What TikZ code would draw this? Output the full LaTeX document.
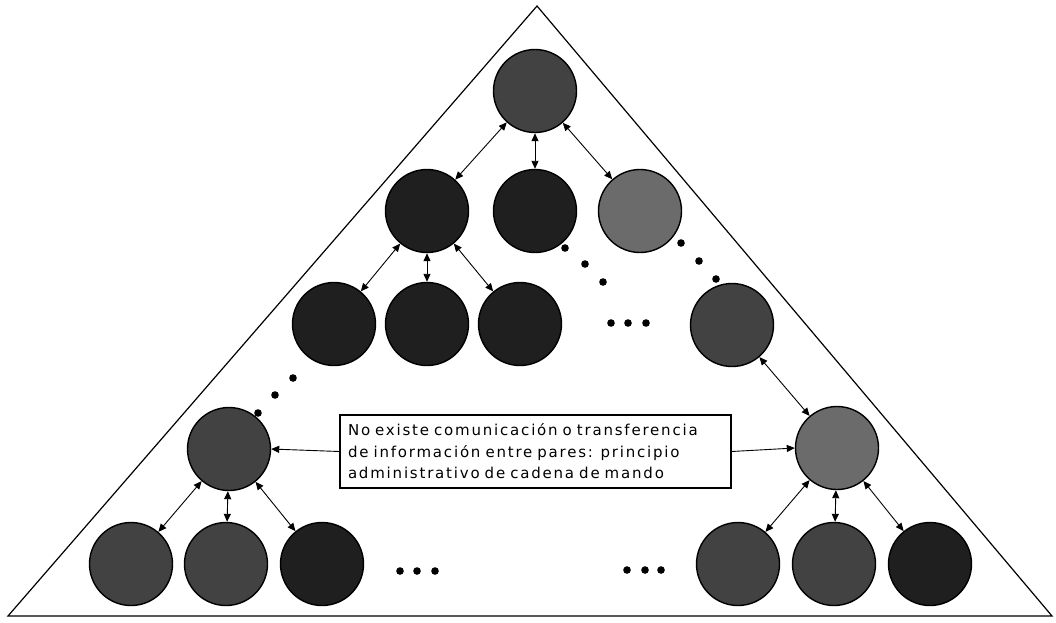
\documentclass[tikz,border=0pt]{standalone}
\usepackage{fontspec}
\setmainfont{DejaVu Sans}
\newfontfamily\notefont[LetterSpace=12]{DejaVu Sans}
\usetikzlibrary{arrows.meta}
\begin{document}
\begin{tikzpicture}[x=1pt,y=-1pt,
  unit/.style={circle,draw=black,line width=1.4pt,minimum size=83pt,inner sep=0pt},
  dark/.style={unit,fill=black!88},
  mid/.style={unit,fill=black!74},
  light/.style={unit,fill=black!58},
  link/.style={{Triangle[length=8pt,width=7pt]}-{Triangle[length=8pt,width=7pt]},line width=0.9pt},
  single/.style={-{Triangle[length=8pt,width=7pt]},line width=0.9pt},
  note/.style={draw=black,line width=1.2pt,text width=375pt,inner xsep=8pt,
    minimum height=73pt,align=left,font=\notefont\fontsize{15}{21.5}\selectfont},
  bullet/.style={fill=black}
]
\useasboundingbox (0,0) rectangle (1056,622);

% outer pyramid
\draw[line width=1.2pt,line join=miter] (8,616) -- (537,6) -- (1052,616) -- cycle;

% top of the hierarchy
\node[mid] (top) at (535,91) {};

% second level
\node[dark]  (b1) at (427,211) {};
\node[dark]  (b2) at (535,211) {};
\node[light] (b3) at (640,211) {};

% third level
\node[dark] (c1) at (334,324) {};
\node[dark] (c2) at (427,324) {};
\node[dark] (c3) at (520,324) {};
\node[mid]  (c4) at (732,325) {};

% fourth level
\node[mid]   (d1) at (229,449) {};
\node[light] (d2) at (837,448) {};

% base level
\node[mid]  (e1) at (131,564) {};
\node[mid]  (e2) at (226,564) {};
\node[dark] (e3) at (322,564) {};
\node[mid]  (e4) at (738,564) {};
\node[mid]  (e5) at (834,564) {};
\node[dark] (e6) at (930,564) {};

% chain of command links
\draw[link] (top) -- (b1);
\draw[link] (top) -- (b2);
\draw[link] (top) -- (b3);
\draw[link] (b1) -- (c1);
\draw[link] (b1) -- (c2);
\draw[link] (b1) -- (c3);
\draw[link] (c4) -- (d2);
\draw[link] (d1) -- (e1);
\draw[link] (d1) -- (e2);
\draw[link] (d1) -- (e3);
\draw[link] (d2) -- (e4);
\draw[link] (d2) -- (e5);
\draw[link] (d2) -- (e6);

% ellipsis dots
\foreach \p in {(565,248),(585,264),(603,282),
                (681,243),(699,261),(716,279),
                (611,323),(628,323),(646,323),
                (293,378),(275,395),(258,413),
                (400,571),(417,571),(435,571),
                (627,570),(645,570),(661,570)}
  \fill[bullet] \p circle (3.8pt);

% explanatory note
\node[note] (txt) at (535.5,451.5) {No existe comunicación o transferencia\\
de información entre pares: principio\\
administrativo de cadena de mando};
\draw[single] (txt.west) -- (d1.east);
\draw[single] (txt.east) -- (d2.west);
\end{tikzpicture}
\end{document}
